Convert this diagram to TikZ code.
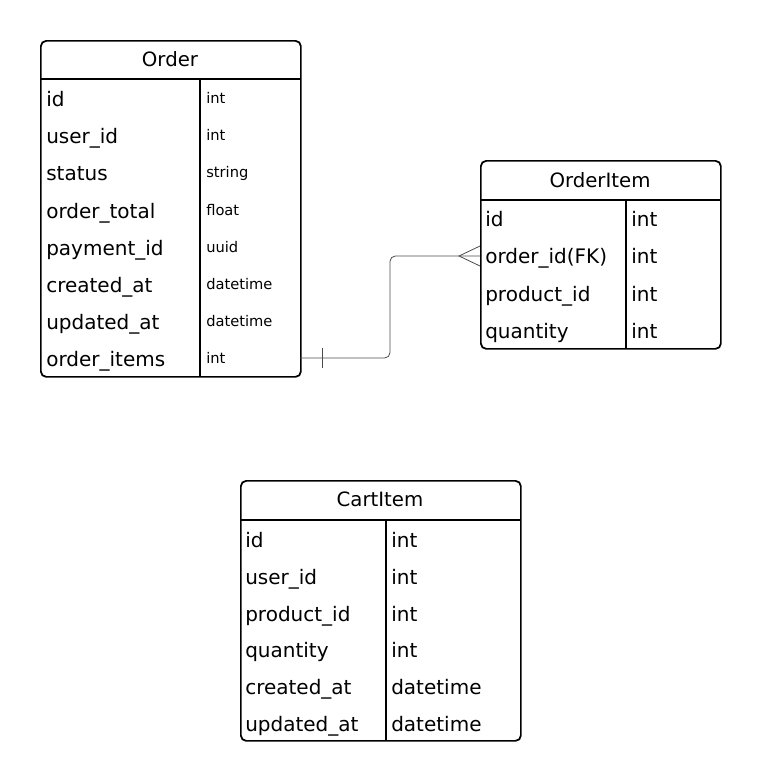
\documentclass[tikz,border=0pt]{standalone}
\usepackage{fontspec}
\setmainfont{DejaVu Sans}
\usetikzlibrary{calc}

\tikzset{
  tbl/.style={draw, line width=1.3pt, rounded corners=4pt, inner sep=0pt, anchor=north west},
  hdr/.style={anchor=base, inner sep=0pt, font=\fontsize{14.8}{16}\selectfont},
  fld/.style={anchor=base west, inner sep=0pt, font=\fontsize{15}{17}\selectfont},
  typ/.style={anchor=base west, inner sep=0pt, font=\fontsize{11}{13}\selectfont},
  rule/.style={line width=1.3pt},
  rel/.style={draw=black!70, line width=0.6pt}
}

\begin{document}
\begin{tikzpicture}[x=0.75pt, y=-0.75pt]
  \useasboundingbox (0,0) rectangle (760,782);

  % Order
  \node[tbl, minimum width=195pt, minimum height=252pt] (order) at (40,40) {};
  \node[hdr] (orderhd) at (170,66.5) {Order};
  \draw[rule] (40,79) -- (300,79);
  \draw[rule] (200,79) -- (200,376);
  \foreach \i/\f/\t in {1/id/int, 2/user\_id/int, 3/status/string, 4/order\_total/float,
      5/payment\_id/uuid, 6/created\_at/datetime, 7/updated\_at/datetime, 8/order\_items/int}{
    \pgfmathsetmacro{\yy}{98 + 37.2*(\i-1)}
    \node[fld] (on\i) at (46,\yy+8.5) {\f};
    \node[typ] (ot\i) at (206,\yy+5.5) {\t};
  }

  % OrderItem
  \node[tbl, minimum width=180pt, minimum height=141pt] (item) at (480,160) {};
  \node[hdr] (itemhd) at (600,187.5) {OrderItem};
  \draw[rule] (480,200) -- (720,200);
  \draw[rule] (626,200) -- (626,348);
  \foreach \i/\f/\t in {1/id/int, 2/order\_id(FK)/int, 3/product\_id/int, 4/quantity/int}{
    \pgfmathsetmacro{\yy}{218 + 37.3*(\i-1)}
    \node[fld] (in\i) at (485,\yy+8.5) {\f};
    \node[fld] (it\i) at (631,\yy+8.5) {\t};
  }

  % CartItem
  \node[tbl, minimum width=210pt, minimum height=195pt] (cart) at (240,480) {};
  \node[hdr] (carthd) at (380,506.5) {CartItem};
  \draw[rule] (240,520) -- (520,520);
  \draw[rule] (386,520) -- (386,740);
  \foreach \i/\f/\t in {1/id/int, 2/user\_id/int, 3/product\_id/int, 4/quantity/int,
      5/created\_at/datetime, 6/updated\_at/datetime}{
    \pgfmathsetmacro{\yy}{539 + 36.8*(\i-1)}
    \node[fld] (cn\i) at (245,\yy+8.5) {\f};
    \node[fld] (ct\i) at (391,\yy+8.5) {\t};
  }

  % relation Order -> OrderItem
  \coordinate (bend) at (390,0);
  \coordinate (oneend) at (300,358);
  \coordinate (manyend) at (480,256);
  \draw[rel, rounded corners=4pt] (oneend) -| (bend |- manyend) -- (manyend);
  \draw[rel] ($(oneend)+(22,-10)$) -- ++(0,20);
  \draw[rel] ($(manyend)+(0,-10)$) -- ($(manyend)+(-21,0)$) -- ($(manyend)+(0,10)$);
\end{tikzpicture}
\end{document}
